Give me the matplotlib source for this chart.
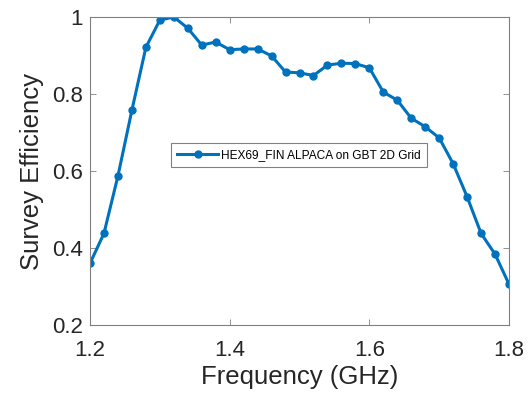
import matplotlib
matplotlib.use("Agg")
import matplotlib.pyplot as plt
from matplotlib.ticker import FixedLocator, FixedFormatter

freq = [1.20, 1.22, 1.24, 1.26, 1.28, 1.30, 1.32, 1.34, 1.36, 1.38, 1.40,
        1.42, 1.44, 1.46, 1.48, 1.50, 1.52, 1.54, 1.56, 1.58, 1.60,
        1.62, 1.64, 1.66, 1.68, 1.70, 1.72, 1.74, 1.76, 1.78, 1.80]
efficiency = [0.360, 0.438, 0.587, 0.758, 0.921, 0.992, 1.000, 0.971, 0.927, 0.935, 0.915,
              0.917, 0.917, 0.899, 0.857, 0.855, 0.848, 0.875, 0.880, 0.879, 0.868,
              0.805, 0.784, 0.737, 0.715, 0.686, 0.619, 0.533, 0.438, 0.384, 0.306]
series_label = "HEX69_FIN ALPACA on GBT 2D Grid"
x_ticks = [1.2, 1.4, 1.6, 1.8]
x_tick_labels = ["1.2", "1.4", "1.6", "1.8"]
y_ticks = [0.2, 0.4, 0.6, 0.8, 1.0]
y_tick_labels = ["0.2", "0.4", "0.6", "0.8", "1"]

plt.rcParams['font.family'] = ['Liberation Sans', 'DejaVu Sans']

fig = plt.figure(figsize=(5.28, 4.04), dpi=100)
ax = fig.add_axes([90/528, 1-325/404, 419/528, 308/404])

ax.plot(freq, efficiency, color='#0072BD', linewidth=2.2, marker='o',
        markersize=5, label=series_label)

ax.set_xlim(1.2, 1.8)
ax.set_ylim(0.2, 1.0)
ax.xaxis.set_major_locator(FixedLocator(x_ticks))
ax.xaxis.set_major_formatter(FixedFormatter(x_tick_labels))
ax.yaxis.set_major_locator(FixedLocator(y_ticks))
ax.yaxis.set_major_formatter(FixedFormatter(y_tick_labels))

axcol = '#262626'
for s in ax.spines.values():
    s.set_color('#808080')
    s.set_linewidth(0.8)
ax.tick_params(direction='in', top=True, right=True, length=4, width=0.6,
               color='#808080', labelsize=16, labelcolor=axcol)
ax.tick_params(axis='x', pad=11)
ax.tick_params(axis='y', pad=5)
ax.set_xlabel("Frequency (GHz)", fontsize=18.5, color=axcol, labelpad=3)
ax.set_ylabel("Survey Efficiency", fontsize=18.5, color=axcol, labelpad=6)

leg = ax.legend(loc='center', bbox_to_anchor=(0.499, 0.552), fontsize=8.6,
                fancybox=False, edgecolor='#808080', framealpha=1,
                handlelength=3.4, borderpad=0.5, handletextpad=0.25,
                borderaxespad=0)
leg.get_frame().set_linewidth(0.8)

fig.savefig("out.png", dpi=100)
